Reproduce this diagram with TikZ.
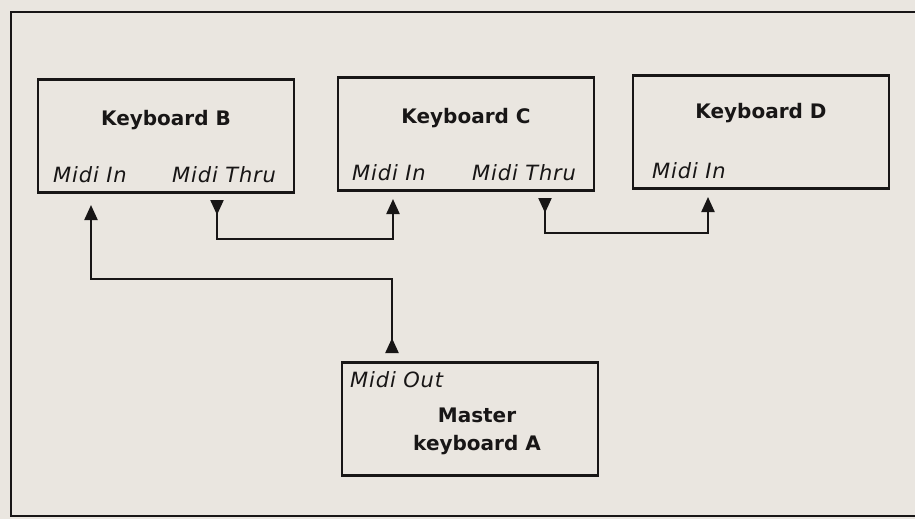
\documentclass[tikz,border=0pt]{standalone}
\usepackage{fontspec}
\setmainfont{DejaVu Sans}
\newfontfamily\portfont[LetterSpace=4]{DejaVu Sans}
\usetikzlibrary{arrows.meta, positioning, calc}
\definecolor{paper}{RGB}{234, 230, 224}
\definecolor{ink}{RGB}{24, 22, 22}

\begin{document}
\begin{tikzpicture}[
                x=1pt, y=-1pt,
                teclado/.style={
                    rectangle,
                    draw=ink,
                    line width=2.2pt,
                    minimum width=256pt,
                    minimum height=113pt,
                    inner sep=0pt
                },
                titulo/.style={
                    font=\fontsize{20}{24}\selectfont\bfseries,
                    text=ink,
                    align=center,
                    anchor=base
                },
                puerto/.style={
                    font=\fontsize{21}{25}\portfont\itshape,
                    text=ink,
                    inner sep=0pt,
                    anchor=base west
                },
                enlace/.style={
                    draw=ink,
                    line width=2.2pt,
                    {Triangle[reversed, width=13pt, length=15pt]}-{Triangle[width=13pt, length=15pt]}
                }
            ]
                \fill[paper] (0,0) rectangle (915,519);
                \useasboundingbox (0,0) rectangle (915,519);
                \draw[ink, line width=2.2pt] (925,12) -- (11,12) -- (11,516) -- (925,516);

                \node[teclado] (kbB) at (166,136) {};
                \node[teclado] (kbC) at (466,134) {};
                \node[teclado] (kbD) at (761,132) {};
                \node[teclado] (kbA) at (470,419) {};

                \node[titulo] (tB) at (kbB.center |- 0,125) {Keyboard B};
                \node[titulo] (tC) at (kbC.center |- 0,123) {Keyboard C};
                \node[titulo] (tD) at (kbD.center |- 0,118) {Keyboard D};
                \node[titulo] (tA) at (477,422) {Master};
                \node[titulo] (tA2) at (477,450) {keyboard A};

                \node[puerto] (lBin) at (53,182) {Midi In};
                \node[puerto] (lBthru) at (172,182) {Midi Thru};
                \node[puerto] (lCin) at (352,180) {Midi In};
                \node[puerto] (lCthru) at (472,180) {Midi Thru};
                \node[puerto] (lDin) at (652,178) {Midi In};
                \node[puerto] (lAout) at (350,387) {Midi Out};

                \coordinate (bIn) at (91,205);
                \coordinate (bThru) at (217,200);
                \coordinate (cIn) at (393,199);
                \coordinate (cThru) at (545,198);
                \coordinate (dIn) at (708,197);
                \coordinate (aOut) at (392,353);

                \draw[enlace] (aOut) -- ++(0,-74) -| (bIn);
                \draw[enlace] (bThru) -- ++(0,39) -| (cIn);
                \draw[enlace] (cThru) -- ++(0,35) -| (dIn);
            \end{tikzpicture}
\end{document}
